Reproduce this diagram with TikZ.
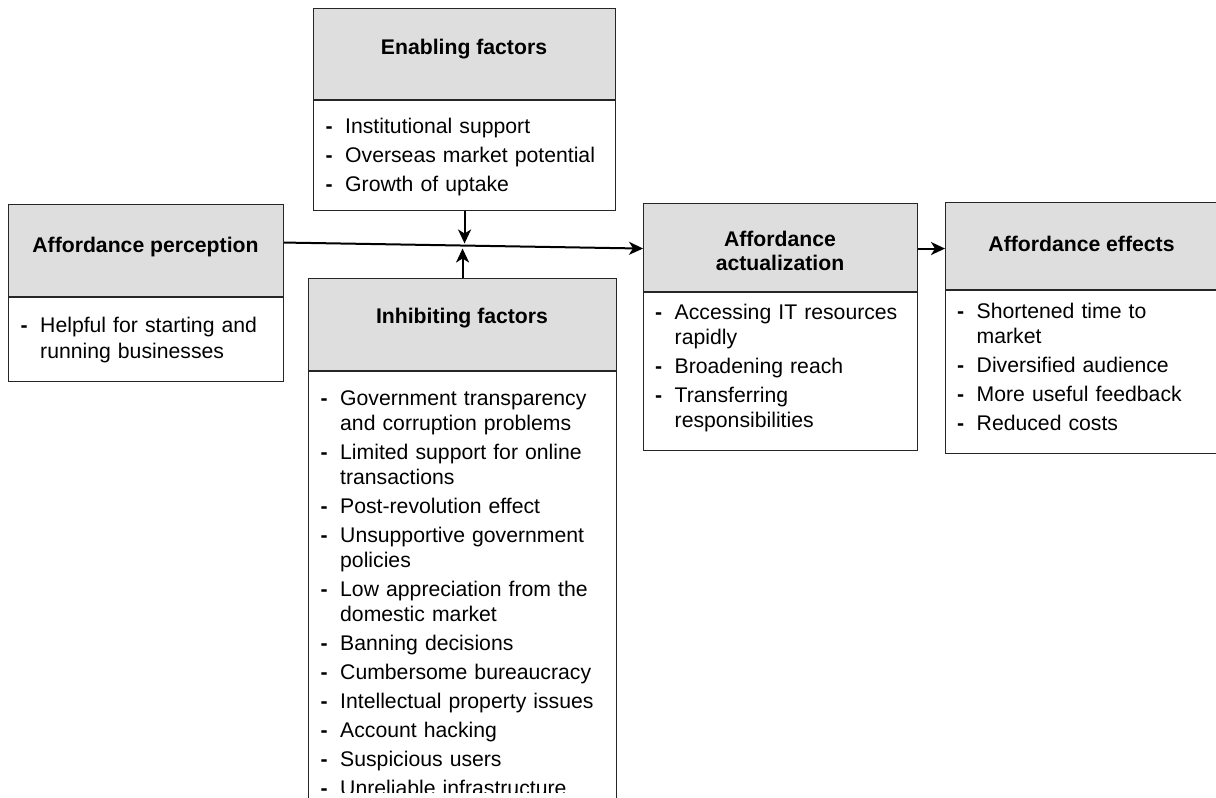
\documentclass[tikz,border=0pt]{standalone}
\usepackage{fontspec}
\setmainfont{Liberation Sans}
\usetikzlibrary{arrows.meta,positioning}

\definecolor{headgray}{RGB}{222,222,222}

% one list entry: a dash, then the text with a hanging indent
\newcommand{\itm}[1]{\hangindent=19.5pt\hangafter=1\noindent\makebox[19.5pt][l]{\textbf{-}}#1\par}

\tikzset{
  head/.style={draw=black!85, fill=headgray, line width=1.1pt, inner sep=0pt, anchor=north west},
  body/.style={draw=black!85, fill=white, line width=1.1pt, inner sep=0pt},
  title/.style={font=\fontsize{21.2}{24}\selectfont\bfseries, align=center, inner sep=0pt},
  list/.style={font=\fontsize{21.2}{25.3}\selectfont, align=left, inner sep=0pt,
    execute at begin node={\setlength{\parskip}{3.6pt}}},
  link/.style={line width=2pt, -{Stealth[length=14pt,width=13pt,inset=4pt]}}
}

\begin{document}
\begin{tikzpicture}[x=1pt,y=-1pt]
    \useasboundingbox (0,0) rectangle (1216,798);
    \clip (0,0) rectangle (1216,798);

    % perception
    \node[head, minimum width=275pt, minimum height=92pt] (perc) at (8,204) {};
    \node[body, minimum width=275pt, minimum height=84pt, below=0pt of perc] (percB) {};
    \node[title] (percT) at (145.5,247) {Affordance perception};
    \node[list, text width=255pt, anchor=west] (percL) at (20.5,340)
        {\itm{Helpful for starting and\newline running businesses}};

    % enabling factors
    \node[head, minimum width=302pt, minimum height=91pt] (enab) at (313,8) {};
    \node[body, minimum width=302pt, minimum height=110pt, below=0pt of enab] (enabB) {};
    \node[title] (enabT) at (464,49) {Enabling factors};
    \node[list, text width=280pt, anchor=west] (enabL) at (325.5,157)
        {\itm{Institutional support}\itm{Overseas market potential}\itm{Growth of uptake}};

    % inhibiting factors
    \node[head, minimum width=308pt, minimum height=92pt] (inhib) at (308,278) {};
    \node[body, minimum width=308pt, minimum height=460pt, below=0pt of inhib] (inhibB) {};
    \node[title] (inhibT) at (462,318) {Inhibiting factors};
    \begin{scope}
        \clip (300,372) rectangle (624,792);
        \node[list, text width=286pt, anchor=north west] (inhibL) at (320.5,390)
            {\itm{Government transparency\newline and corruption problems}
             \itm{Limited support for online\newline transactions}
             \itm{Post-revolution effect}
             \itm{Unsupportive government\newline policies}
             \itm{Low appreciation from the\newline domestic market}
             \itm{Banning decisions}
             \itm{Cumbersome bureaucracy}
             \itm{Intellectual property issues}
             \itm{Account hacking}
             \itm{Suspicious users}
             \itm{Unreliable infrastructure}};
    \end{scope}

    % actualization
    \node[head, minimum width=274pt, minimum height=88pt] (act) at (643,203) {};
    \node[body, minimum width=274pt, minimum height=158pt, below=0pt of act] (actB) {};
    \node[title] (actT) at (780,251) {Affordance\\actualization};
    \node[list, text width=254pt, anchor=west] (actL) at (655,368)
        {\itm{Accessing IT resources\newline rapidly}\itm{Broadening reach}
         \itm{Transferring\newline responsibilities}};

    % effects
    \node[head, minimum width=273pt, minimum height=87pt] (eff) at (945,202) {};
    \node[body, minimum width=273pt, minimum height=163pt, below=0pt of eff] (effB) {};
    \node[title] (effT) at (1081.5,244) {Affordance effects};
    \node[list, text width=253pt, anchor=west] (effL) at (957,366.5)
        {\itm{Shortened time to\newline market}\itm{Diversified audience}
         \itm{More useful feedback}\itm{Reduced costs}};

    % connectors
    \coordinate (joinUp) at (463,243.5);
    \coordinate (joinDown) at (463,248.5);
    \draw[link] ([yshift=8pt]perc.east) -- ([yshift=-1pt]act.west);
    \draw[link] (enabB.south) -- (enabB.south |- joinUp);
    \draw[link] (inhib.north) -- (inhib.north |- joinDown);
    \draw[link] ([yshift=-1pt]act.east) -- ([yshift=-1pt]act.east -| eff.west);
\end{tikzpicture}
\end{document}
